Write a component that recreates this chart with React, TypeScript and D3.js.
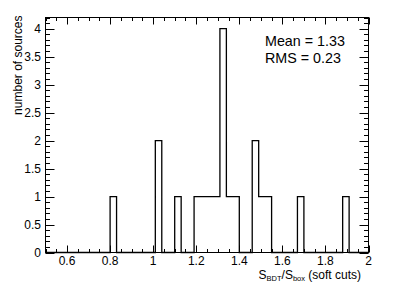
import React from "react";
import * as d3 from "d3";

// Histogram definition (ROOT TH1): 50 bins from 0.5 to 2.0
const xMin = 0.5;
const xMax = 2.0;
const nBins = 50;
const counts = [
  0, 0, 0, 0, 0, 0, 0, 0, 0, 0,
  1, 0, 0, 0, 0, 0, 0, 2, 0, 0,
  1, 0, 0, 1, 1, 1, 1, 4, 1, 1,
  0, 0, 2, 1, 1, 0, 0, 0, 0, 1,
  0, 0, 0, 0, 0, 0, 1, 0, 0, 0,
];
const yMax = 4.2;
const xTickLabels = ["0.6", "0.8", "1", "1.2", "1.4", "1.6", "1.8", "2"];
const yTickLabels = ["0", "0.5", "1", "1.5", "2", "2.5", "3", "3.5", "4"];
const statLines = ["Mean = 1.33", "RMS = 0.23"];

const W = 415;
const H = 294;
const L = 45.5, R = 368.5, T = 17.5, B = 252.5;
const FONT = "'Liberation Sans', Arial, Helvetica, sans-serif";

export default function App() {
  const x = d3.scaleLinear().domain([xMin, xMax]).range([L, R]);
  const y = d3.scaleLinear().domain([0, yMax]).range([B, T]);
  const bw = (xMax - xMin) / nBins;

  // step outline path
  let path = `M${x(xMin)},${y(0)}`;
  counts.forEach((c, i) => {
    const x0 = x(xMin + i * bw);
    const x1 = x(xMin + (i + 1) * bw);
    path += `L${x0},${y(c)}L${x1},${y(c)}`;
  });
  path += `L${x(xMax)},${y(0)}`;

  const xMinor = d3.range(0, 31).map((i) => +(xMin + i * 0.05).toFixed(3));
  const yMinor = d3.range(0, 43).map((i) => +(i * 0.1).toFixed(3));
  const isXMajor = (v: number) => xTickLabels.includes(String(+v.toFixed(2)));
  const isYMajor = (v: number) => yTickLabels.includes(String(+v.toFixed(2)));

  return (
    <svg
      width={W}
      height={H}
      style={{ position: "fixed", left: 0, top: 0, background: "#fff" }}
      fontFamily={FONT}
    >
      <rect x={0} y={0} width={W} height={H} fill="#fff" />
      <path d={path} fill="none" stroke="#000" strokeWidth={1.3} />
      {/* ticks */}
      <g stroke="#000" strokeWidth={1}>
        {xMinor.map((v) => {
          const len = isXMajor(v) ? 7 : 3.5;
          const px = Math.round(x(v)) + 0.5;
          return (
            <g key={"x" + v}>
              <line x1={px} x2={px} y1={B} y2={B - len} />
              <line x1={px} x2={px} y1={T} y2={T + len} />
            </g>
          );
        })}
        {yMinor.map((v) => {
          const len = isYMajor(v) ? 9 : 4.5;
          const py = Math.round(y(v)) + 0.5;
          return (
            <g key={"y" + v}>
              <line x1={L} x2={L + len} y1={py} y2={py} />
              <line x1={R} x2={R - len} y1={py} y2={py} />
            </g>
          );
        })}
      </g>
      <rect x={L} y={T} width={R - L} height={B - T} fill="none" stroke="#000" strokeWidth={1} />
      {/* tick labels */}
      <g fontSize={12} fill="#000">
        {xTickLabels.map((t) => (
          <text key={t} x={x(+t)} y={265} textAnchor="middle">
            {t}
          </text>
        ))}
        {yTickLabels.map((t) => (
          <text key={t} x={41} y={y(+t) + 4.2} textAnchor="end">
            {t}
          </text>
        ))}
      </g>
      <text
        transform={`translate(21.5,${T - 2}) rotate(-90)`}
        textAnchor="end"
        fontSize={12}
        fill="#000"
      >
        number of sources
      </text>
      <text x={361} y={278.5} textAnchor="end" fontSize={12} fill="#000">
        S<tspan fontSize={7.5} dy={2}>BDT</tspan>
        <tspan dy={-2}>/S</tspan>
        <tspan fontSize={7.5} dy={2}>box</tspan>
        <tspan dy={-2}> (soft cuts)</tspan>
      </text>
      <g fontSize={14.3} fill="#000">
        {statLines.map((s, i) => (
          <text key={s} x={265} y={46 + i * 17} textAnchor="start">
            {s}
          </text>
        ))}
      </g>
    </svg>
  );
}
